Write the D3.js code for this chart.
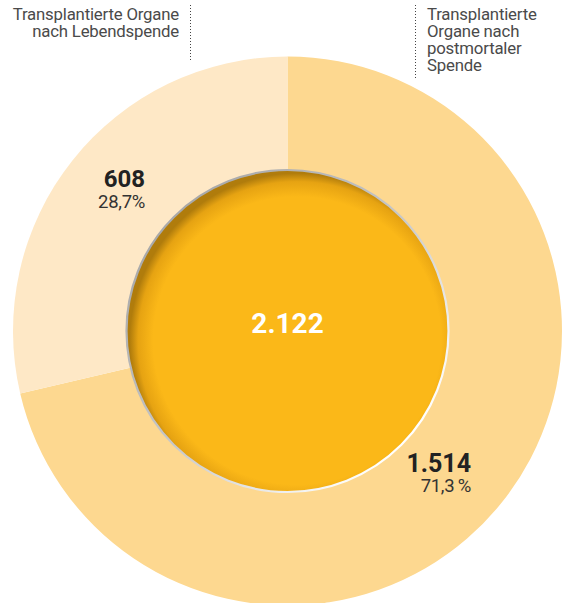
<!DOCTYPE html>
<html>
<head>
<meta charset="utf-8">
<script src="https://cdn.jsdelivr.net/npm/d3@7"></script>
<style>
  html, body { margin: 0; padding: 0; background: #fff; }
  svg { display: block; }
  text { font-family: Roboto, "Noto Sans", sans-serif; }
</style>
</head>
<body>
<svg id="chart" width="567" height="603"></svg>
<script>
// Transplantierte Organe: Lebendspende vs. postmortale Spende
const categories = ["Transplantierte Organe nach postmortaler Spende", "Transplantierte Organe nach Lebendspende"];
const values = [1514, 608];
const valueLabels = ["1.514", "608"];
const shareLabels = ["71,3\u2009%", "28,7%"];
const totalLabel = "2.122";
const sliceColors = ["#fdd890", "#fee8c6"];

const svg = d3.select("#chart");
const cx = 287.5, cy = 331;
const outerR = 274.5, innerR = 161;

const defs = svg.append("defs");
// inner disc: warm yellow with a darker rim toward the upper left
const rg = defs.append("radialGradient").attr("id", "discFill")
  .attr("cx", "53%").attr("cy", "53%").attr("r", "52%");
rg.append("stop").attr("offset", "0.86").attr("stop-color", "#fbb818");
rg.append("stop").attr("offset", "0.95").attr("stop-color", "#e6a312");
rg.append("stop").attr("offset", "1").attr("stop-color", "#b07c0c");
// rim stroke: grey on the upper left fading to white at the lower right
const lg = defs.append("linearGradient").attr("id", "rimStroke")
  .attr("x1", "15%").attr("y1", "15%").attr("x2", "85%").attr("y2", "85%");
lg.append("stop").attr("offset", "0").attr("stop-color", "#a9a9a9");
lg.append("stop").attr("offset", "0.5").attr("stop-color", "#c8c8c8");
lg.append("stop").attr("offset", "1").attr("stop-color", "#ffffff");

const g = svg.append("g").attr("transform", `translate(${cx},${cy})`);

const pie = d3.pie().sort(null).value(d => d)(values);
const arc = d3.arc().innerRadius(0).outerRadius(outerR);

g.selectAll("path.slice").data(pie).join("path")
  .attr("class", "slice")
  .attr("d", arc)
  .attr("fill", (d, i) => sliceColors[i]);

// central disc
g.append("circle").attr("r", innerR)
  .attr("fill", "url(#discFill)")
  .attr("stroke", "url(#rimStroke)")
  .attr("stroke-width", 2.2);

g.append("text").attr("x", 0).attr("y", 2)
  .attr("text-anchor", "middle")
  .attr("font-size", 28).attr("font-weight", 700)
  .attr("fill", "#ffffff")
  .text(totalLabel);

// value labels in the ring, right-aligned
const labelPos = [
  { x: 471 - cx, y: 471.5 - cy, gap: 20, size: 25 },
  { x: 145 - cx, y: 186.5 - cy, gap: 21.5, size: 24 }
];
values.forEach((v, i) => {
  const p = labelPos[i];
  g.append("text").attr("x", p.x).attr("y", p.y)
    .attr("text-anchor", "end")
    .attr("font-size", p.size).attr("font-weight", 700)
    .attr("fill", "#222")
    .text(valueLabels[i]);
  g.append("text").attr("x", p.x).attr("y", p.y + p.gap)
    .attr("text-anchor", "end")
    .attr("font-size", 18.5).attr("font-weight", 400)
    .attr("letter-spacing", -0.3)
    .attr("fill", "#333")
    .text(shareLabels[i]);
});

// category captions with dotted leaders
const captions = [
  { lines: ["Transplantierte", "Organe nach", "postmortaler", "Spende"], x: 427, anchor: "start", lineX: 415.5, y0: 5, y1: 80 },
  { lines: ["Transplantierte Organe", "nach Lebendspende"], x: 179, anchor: "end", lineX: 190.5, y0: 5, y1: 62 }
];
captions.forEach(c => {
  svg.append("line")
    .attr("x1", c.lineX).attr("x2", c.lineX)
    .attr("y1", c.y0).attr("y2", c.y1)
    .attr("stroke", "#444").attr("stroke-width", 1)
    .attr("stroke-dasharray", "1,2");
  const t = svg.append("text")
    .attr("text-anchor", c.anchor)
    .attr("font-size", 16.8).attr("font-weight", 400)
    .attr("letter-spacing", -0.2)
    .attr("fill", "#4a4a4a");
  c.lines.forEach((ln, k) => {
    t.append("tspan").attr("x", c.x).attr("y", 19.5 + k * 17).text(ln);
  });
});
</script>
</body>
</html>
